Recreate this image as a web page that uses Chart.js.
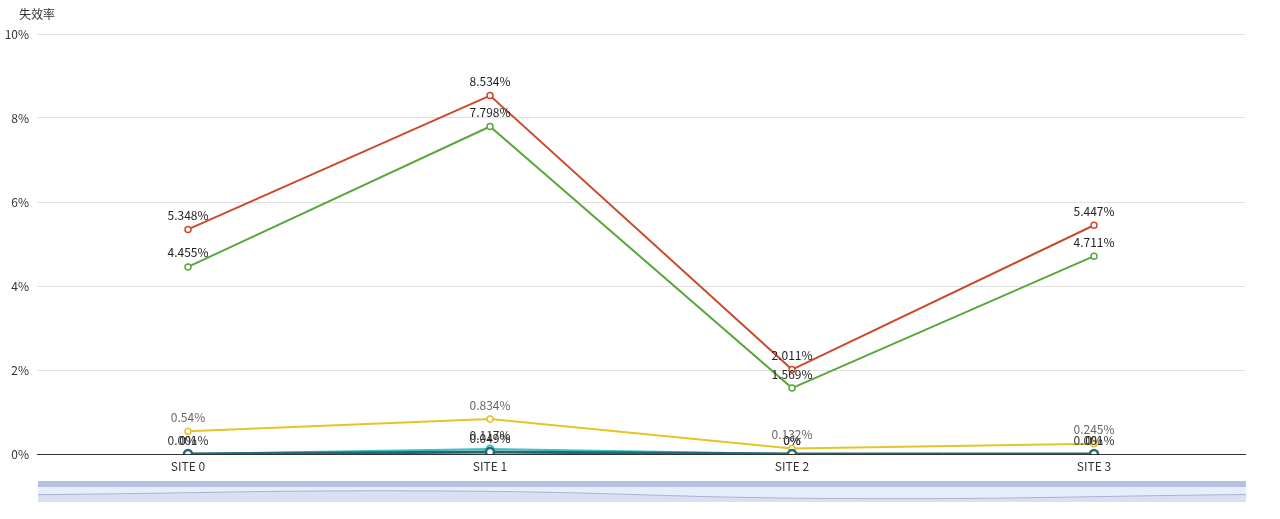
<!DOCTYPE html>
<html>
<head>
<meta charset="utf-8">
<script src="https://cdn.jsdelivr.net/npm/chart.js@4"></script>
<style>
  html, body { margin: 0; padding: 0; background: #fff; }
  #wrap { position: relative; width: 1280px; height: 519px; }
  #main { position: absolute; left: 0; top: 0; width: 1280px; height: 480px; }
  #zoom { position: absolute; left: 38px; top: 481px; width: 1208px; height: 21px;
          background: linear-gradient(#b6c0e2 0, #b6c0e2 6px, #e6eefb 6px, #e6eefb 100%); }
  #zoomCanvasBox { position: absolute; left: 0; top: 6px; width: 1208px; height: 15px; }
</style>
</head>
<body>
<div id="wrap">
  <div id="main"><canvas id="lineChart"></canvas></div>
  <div id="zoom"><div id="zoomCanvasBox"><canvas id="zoomChart"></canvas></div></div>
</div>
<script>
const sites = ['SITE 0', 'SITE 1', 'SITE 2', 'SITE 3'];
const yTicks = [0, 2, 4, 6, 8, 10];

const redRate = [5.348, 8.534, 2.011, 5.447];
const greenRate = [4.455, 7.798, 1.569, 4.711];
const yellowRate = [0.54, 0.834, 0.132, 0.245];
const cyanRate = [0.001, 0.117, 0, 0.001];
const tealRate = [0, 0.049, 0, 0];

const FONT = '"Noto Sans CJK SC", "Noto Sans", sans-serif';

function series(data, color, labelColor, radius, bw, lw) {
  return {
    data,
    borderColor: color,
    backgroundColor: '#fff',
    pointBackgroundColor: '#fff',
    pointBorderColor: color,
    pointRadius: radius,
    pointBorderWidth: bw,
    borderWidth: lw,
    tension: 0,
    labelColor
  };
}

// value labels above each point
const valueLabels = {
  id: 'valueLabels',
  afterDatasetsDraw(chart) {
    const ctx = chart.ctx;
    ctx.save();
    ctx.font = '12px ' + FONT;
    ctx.textAlign = 'center';
    ctx.textBaseline = 'bottom';
    chart.data.datasets.forEach((ds, i) => {
      chart.getDatasetMeta(i).data.forEach((pt, j) => {
        ctx.fillStyle = ds.labelColor;
        ctx.fillText(ds.data[j] + '%', pt.x, pt.y - 8);
      });
    });
    ctx.restore();
  }
};

// y axis name at top
const axisName = {
  id: 'axisName',
  afterDraw(chart) {
    const ctx = chart.ctx;
    ctx.save();
    ctx.font = '12px ' + FONT;
    ctx.fillStyle = '#333';
    ctx.textAlign = 'center';
    ctx.textBaseline = 'middle';
    ctx.fillText('失效率', chart.chartArea.left, chart.chartArea.top - 20);
    ctx.restore();
  }
};

new Chart(document.getElementById('lineChart'), {
  type: 'line',
  data: {
    labels: sites,
    datasets: [
      series(tealRate, '#1d6b73', '#222', 4, 2.5, 3),
      series(cyanRate, '#3fbfc7', '#333', 3.5, 2, 2),
      series(yellowRate, '#e3c52a', '#666', 3, 1.5, 2),
      series(greenRate, '#5aa83c', '#222', 3, 1.5, 2),
      series(redRate, '#cb4a2a', '#222', 3, 1.5, 2)
    ]
  },
  options: {
    responsive: true,
    maintainAspectRatio: false,
    animation: false,
    layout: { padding: { top: 34, right: 35, left: 0, bottom: 0 } },
    plugins: { legend: { display: false }, tooltip: { enabled: false } },
    scales: {
      x: {
        offset: true,
        grid: { display: false },
        border: { display: true, color: '#333', width: 1 },
        ticks: { color: '#333', font: { size: 12, family: FONT }, padding: -3 },
        afterFit(s) { s.height = 26; }
      },
      y: {
        min: 0, max: 10,
        afterBuildTicks(s) { s.ticks = yTicks.map(v => ({ value: v })); },
        grid: { color: '#e0e0e0', drawTicks: false },
        border: { display: false },
        ticks: { color: '#333', padding: 8, font: { size: 12, family: FONT },
                 callback: v => v + '%' },
        afterFit(s) { s.width = 37; }
      }
    }
  },
  plugins: [valueLabels, axisName]
});

// data shadow in the zoom slider
new Chart(document.getElementById('zoomChart'), {
  type: 'line',
  data: {
    labels: sites,
    datasets: [{
      data: redRate,
      borderColor: '#a9b3cc',
      borderWidth: 1,
      backgroundColor: '#d8e1f4',
      fill: 'start',
      pointRadius: 0,
      tension: 0.45
    }]
  },
  options: {
    responsive: true,
    maintainAspectRatio: false,
    animation: false,
    layout: { padding: 0 },
    plugins: { legend: { display: false }, tooltip: { enabled: false } },
    scales: {
      x: { display: false },
      y: { display: false, min: -1, max: 12 }
    }
  }
});
</script>
</body>
</html>
